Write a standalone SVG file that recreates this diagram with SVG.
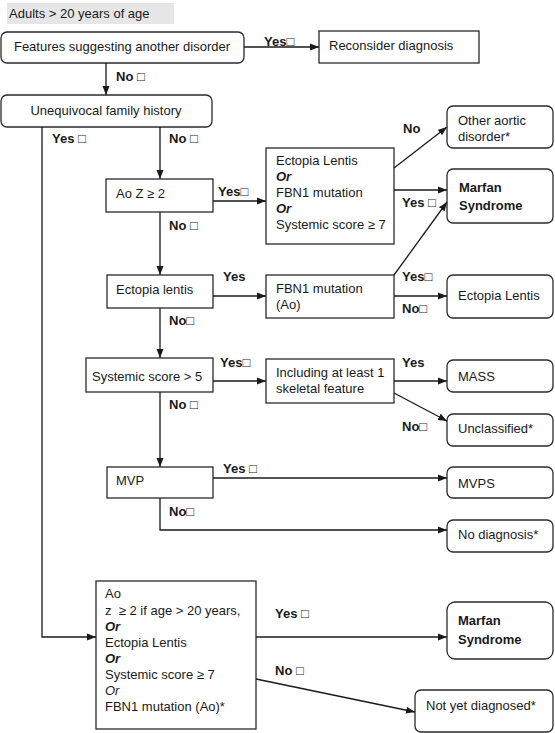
<svg xmlns="http://www.w3.org/2000/svg" width="555" height="733" viewBox="0 0 555 733">
<style>
  .bx{fill:#fff;stroke:#2a2a2a;stroke-width:1.3}
  .t{font-family:"Liberation Sans",Arial,"DejaVu Sans",sans-serif;font-size:13px;fill:#1a1a1a}
  .b{font-family:"Liberation Sans",Arial,"DejaVu Sans",sans-serif;font-size:13px;font-weight:bold;fill:#1a1a1a}
  .bi{font-weight:bold;font-style:italic}
  .i{font-style:italic}
  .c{fill:none;stroke:#1a1a1a;stroke-width:1.3}
</style>
<defs>
  <marker id="ah" markerUnits="userSpaceOnUse" markerWidth="9" markerHeight="8" refX="9" refY="4" orient="auto">
    <path d="M0,0.5 L9,4 L0,7.5 z" fill="#1a1a1a"/>
  </marker>
</defs>
<rect width="555" height="733" fill="#fff"/>
<g id="header">
  <rect x="7" y="3" width="167" height="21" fill="#e6e6e6"/>
  <text class="t" x="9" y="18" font-size="12">Adults &gt; 20 years of age</text>
</g>
<g id="features">
  <rect class="bx" x="1" y="32" width="243" height="31" rx="6"/>
  <text class="t" x="122" y="51" text-anchor="middle">Features suggesting another disorder</text>
</g>
<g id="reconsider">
  <rect class="bx" x="319" y="31" width="160" height="32"/>
  <text class="t" x="329" y="50">Reconsider diagnosis</text>
</g>
<g id="family">
  <rect class="bx" x="1" y="95" width="211" height="32" rx="6"/>
  <text class="t" x="106" y="115" text-anchor="middle">Unequivocal family history</text>
</g>
<g id="aoz">
  <rect class="bx" x="106" y="179" width="107" height="33"/>
  <text class="t" x="116" y="198">Ao Z ≥ 2</text>
</g>
<g id="combo">
  <rect class="bx" x="266" y="148" width="128" height="96"/>
  <text class="t" x="276" y="165">Ectopia Lentis</text>
  <text class="t bi" x="276" y="181">Or</text>
  <text class="t" x="276" y="197">FBN1 mutation</text>
  <text class="t bi" x="276" y="213">Or</text>
  <text class="t" x="276" y="229">Systemic score ≥ 7</text>
</g>
<g id="other">
  <rect class="bx" x="447" y="106" width="106" height="42" rx="6"/>
  <text class="t" x="458" y="125">Other aortic</text>
  <text class="t" x="458" y="141">disorder*</text>
</g>
<g id="marfan1">
  <rect class="bx" x="447" y="169" width="106" height="54" rx="6"/>
  <text class="b" x="459" y="192">Marfan</text>
  <text class="b" x="459" y="210">Syndrome</text>
</g>
<g id="ectopia">
  <rect class="bx" x="107" y="275" width="106" height="33"/>
  <text class="t" x="116" y="294">Ectopia lentis</text>
</g>
<g id="fbn1">
  <rect class="bx" x="266" y="275" width="128" height="43"/>
  <text class="t" x="276" y="293">FBN1 mutation</text>
  <text class="t" x="276" y="309">(Ao)</text>
</g>
<g id="el">
  <rect class="bx" x="447" y="275" width="106" height="43" rx="6"/>
  <text class="t" x="458" y="300">Ectopia Lentis</text>
</g>
<g id="systemic">
  <rect class="bx" x="86" y="358" width="127" height="34"/>
  <text class="t" x="92" y="381">Systemic score &gt; 5</text>
</g>
<g id="including">
  <rect class="bx" x="266" y="359" width="128" height="44"/>
  <text class="t" x="276" y="377">Including at least 1</text>
  <text class="t" x="276" y="393">skeletal feature</text>
</g>
<g id="mass">
  <rect class="bx" x="447" y="360" width="106" height="32" rx="6"/>
  <text class="t" x="458" y="381">MASS</text>
</g>
<g id="unclassified">
  <rect class="bx" x="447" y="414" width="106" height="32" rx="6"/>
  <text class="t" x="458" y="433">Unclassified*</text>
</g>
<g id="mvp">
  <rect class="bx" x="107" y="467" width="106" height="31"/>
  <text class="t" x="116" y="485">MVP</text>
</g>
<g id="mvps">
  <rect class="bx" x="447" y="467" width="106" height="31" rx="6"/>
  <text class="t" x="458" y="488">MVPS</text>
</g>
<g id="nodiag">
  <rect class="bx" x="447" y="520" width="106" height="32" rx="6"/>
  <text class="t" x="458" y="539">No diagnosis*</text>
</g>
<g id="ao">
  <rect class="bx" x="96" y="581" width="160" height="148"/>
  <text class="t" x="105" y="598">Ao</text>
  <text class="t" x="105" y="615">z &#160;≥ 2 if age &gt; 20 years,</text>
  <text class="t bi" x="105" y="631">Or</text>
  <text class="t" x="105" y="647">Ectopia Lentis</text>
  <text class="t bi" x="105" y="663">Or</text>
  <text class="t" x="105" y="679">Systemic score ≥ 7</text>
  <text class="t i" x="105" y="695">Or</text>
  <text class="t" x="105" y="711">FBN1 mutation (Ao)*</text>
</g>
<g id="marfan2">
  <rect class="bx" x="447" y="602" width="106" height="57" rx="8"/>
  <text class="b" x="458" y="625">Marfan</text>
  <text class="b" x="458" y="644">Syndrome</text>
</g>
<g id="notyet">
  <rect class="bx" x="415" y="690" width="138" height="42" rx="6"/>
  <text class="t" x="426" y="710">Not yet diagnosed*</text>
</g>
<g id="connectors">
  <path class="c" d="M244,47 H319" marker-end="url(#ah)"/>
  <path class="c" d="M106,63 V95" marker-end="url(#ah)"/>
  <path class="c" d="M42,127 V637 H96" marker-end="url(#ah)"/>
  <path class="c" d="M160,127 V179" marker-end="url(#ah)"/>
  <path class="c" d="M213,201 H266" marker-end="url(#ah)"/>
  <path class="c" d="M160,212 V275" marker-end="url(#ah)"/>
  <path class="c" d="M394,168 L447,127" marker-end="url(#ah)"/>
  <path class="c" d="M394,190 H447" marker-end="url(#ah)"/>
  <path class="c" d="M394,275 L447,202" marker-end="url(#ah)"/>
  <path class="c" d="M213,296 H266" marker-end="url(#ah)"/>
  <path class="c" d="M160,308 V358" marker-end="url(#ah)"/>
  <path class="c" d="M394,296 H447" marker-end="url(#ah)"/>
  <path class="c" d="M213,381 H266" marker-end="url(#ah)"/>
  <path class="c" d="M160,392 V467" marker-end="url(#ah)"/>
  <path class="c" d="M394,381 H447" marker-end="url(#ah)"/>
  <path class="c" d="M394,393 L447,421" marker-end="url(#ah)"/>
  <path class="c" d="M213,478 H447" marker-end="url(#ah)"/>
  <path class="c" d="M160,498 V530 H447" marker-end="url(#ah)"/>
  <path class="c" d="M256,637 H447" marker-end="url(#ah)"/>
  <path class="c" d="M256,679 L415,712" marker-end="url(#ah)"/>
  <text class="b" x="264" y="46">Yes□</text>
  <text class="b" x="116" y="81">No □</text>
  <text class="b" x="52" y="143">Yes □</text>
  <text class="b" x="169" y="143">No □</text>
  <text class="b" x="218" y="196">Yes□</text>
  <text class="b" x="169" y="230">No □</text>
  <text class="b" x="403" y="133">No</text>
  <text class="b" x="402" y="207">Yes □</text>
  <text class="b" x="223" y="281">Yes</text>
  <text class="b" x="402" y="281">Yes□</text>
  <text class="b" x="402" y="313">No□</text>
  <text class="b" x="169" y="325">No□</text>
  <text class="b" x="220" y="367">Yes□</text>
  <text class="b" x="402" y="367">Yes</text>
  <text class="b" x="169" y="409">No □</text>
  <text class="b" x="402" y="431">No□</text>
  <text class="b" x="223" y="473">Yes □</text>
  <text class="b" x="169" y="516">No□</text>
  <text class="b" x="275" y="618">Yes □</text>
  <text class="b" x="275" y="675">No □</text>
</g>
</svg>
